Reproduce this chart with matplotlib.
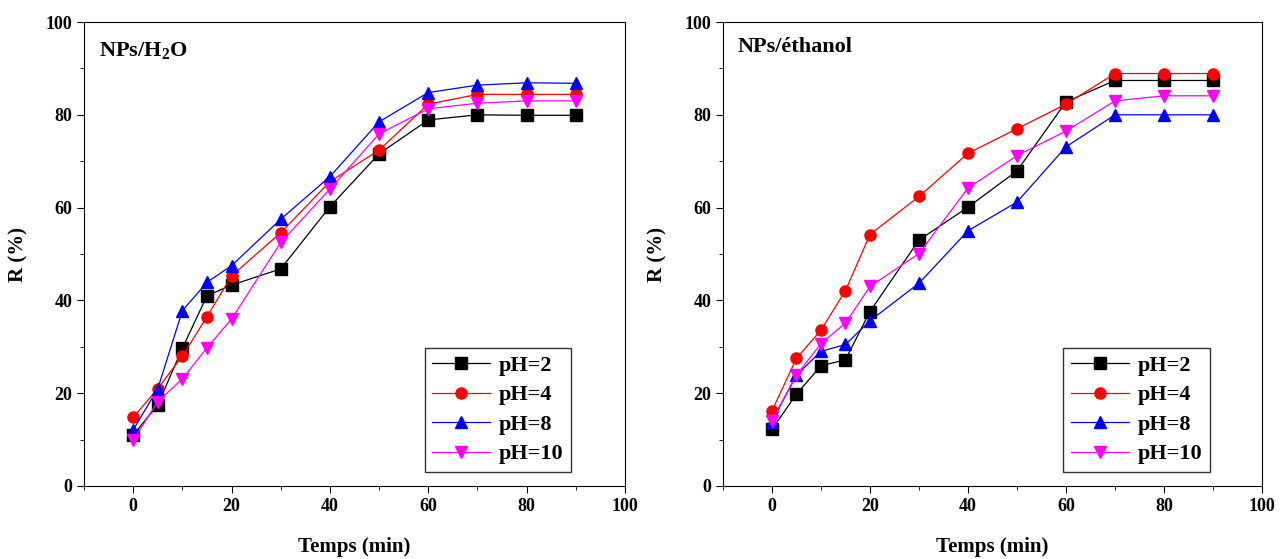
import matplotlib.pyplot as plt
from matplotlib.ticker import MultipleLocator

plt.rcParams['font.family'] = ['Liberation Serif', 'DejaVu Serif']
plt.rcParams['font.weight'] = 'bold'
plt.rcParams['mathtext.fontset'] = 'custom'
plt.rcParams['mathtext.rm'] = 'Liberation Serif:bold'
plt.rcParams['mathtext.bf'] = 'Liberation Serif:bold'

temps = [0, 5, 10, 15, 20, 30, 40, 50, 60, 70, 80, 90]

# NPs/H2O
h2o_ph2 = [11.0, 17.5, 29.7, 41.0, 43.3, 46.8, 60.2, 71.6, 78.9, 80.0, 79.9, 79.9]
h2o_ph4 = [14.8, 21.0, 28.0, 36.5, 45.3, 54.6, 65.6, 72.4, 82.3, 84.4, 84.4, 84.4]
h2o_ph8 = [12.1, 21.0, 37.8, 43.9, 47.5, 57.5, 66.7, 78.5, 84.8, 86.4, 86.9, 86.8]
h2o_ph10 = [9.9, 18.2, 23.1, 29.8, 36.0, 52.5, 64.0, 75.9, 81.3, 82.5, 83.0, 83.0]

# NPs/ethanol
eth_ph2 = [12.2, 19.8, 25.9, 27.2, 37.6, 53.0, 60.1, 67.9, 82.8, 87.4, 87.4, 87.4]
eth_ph4 = [16.2, 27.5, 33.6, 42.1, 54.2, 62.4, 71.7, 77.0, 82.3, 88.9, 88.9, 88.9]
eth_ph8 = [13.9, 23.9, 29.0, 30.5, 35.6, 43.7, 55.0, 61.2, 73.1, 80.0, 80.0, 80.0]
eth_ph10 = [14.1, 23.9, 30.7, 35.1, 43.0, 50.1, 64.2, 71.2, 76.5, 83.0, 84.1, 84.1]

labels = ['pH=2', 'pH=4', 'pH=8', 'pH=10']
styles = [('k', 's'), ('r', 'o'), ('b', '^'), ('magenta', 'v')]

fig = plt.figure(figsize=(12.85, 5.59), dpi=100)
ax1 = fig.add_axes([0.0654, 0.1306, 0.4210, 0.8300])
ax2 = fig.add_axes([0.5626, 0.1306, 0.4195, 0.8300])


def panel(ax, series, title, title_y, legend_x):
    for y, lab, (c, m) in zip(series, labels, styles):
        ax.plot(temps, y, color=c, marker=m, markersize=8, lw=0.9, label=lab)
    ax.set_xlim(-10, 100)
    ax.set_ylim(0, 100)
    ax.xaxis.set_major_locator(MultipleLocator(20))
    ax.xaxis.set_minor_locator(MultipleLocator(10))
    ax.yaxis.set_major_locator(MultipleLocator(20))
    ax.yaxis.set_minor_locator(MultipleLocator(10))
    ax.tick_params(which='both', direction='out', top=False, right=False, labelsize=13)
    ax.tick_params(which='major', length=5)
    ax.tick_params(which='minor', length=3)
    for lbl in ax.get_xticklabels() + ax.get_yticklabels():
        lbl.set_fontweight('bold')
    ax.set_xlabel('Temps (min)', fontsize=15, fontweight='bold', labelpad=16)
    ax.set_ylabel('R (%)', fontsize=15, fontweight='bold', labelpad=12)
    ax.text(0.028, title_y, title, transform=ax.transAxes, fontsize=16,
            fontweight='bold', va='baseline', ha='left')
    leg = ax.legend(loc='lower right', bbox_to_anchor=(legend_x, 0.03),
                    borderaxespad=0, fancybox=False, edgecolor='k',
                    prop={'size': 16, 'weight': 'bold'}, handlelength=2.6,
                    labelspacing=0.4, borderpad=0.35, handletextpad=0.4)
    leg.get_frame().set_linewidth(1.0)


panel(ax1, [h2o_ph2, h2o_ph4, h2o_ph8, h2o_ph10], r'NPs/H$_\mathbf{2}$O', 0.925, 0.901)
panel(ax2, [eth_ph2, eth_ph4, eth_ph8, eth_ph10], 'NPs/éthanol', 0.935, 0.9035)

fig.savefig('out.png', dpi=100)
